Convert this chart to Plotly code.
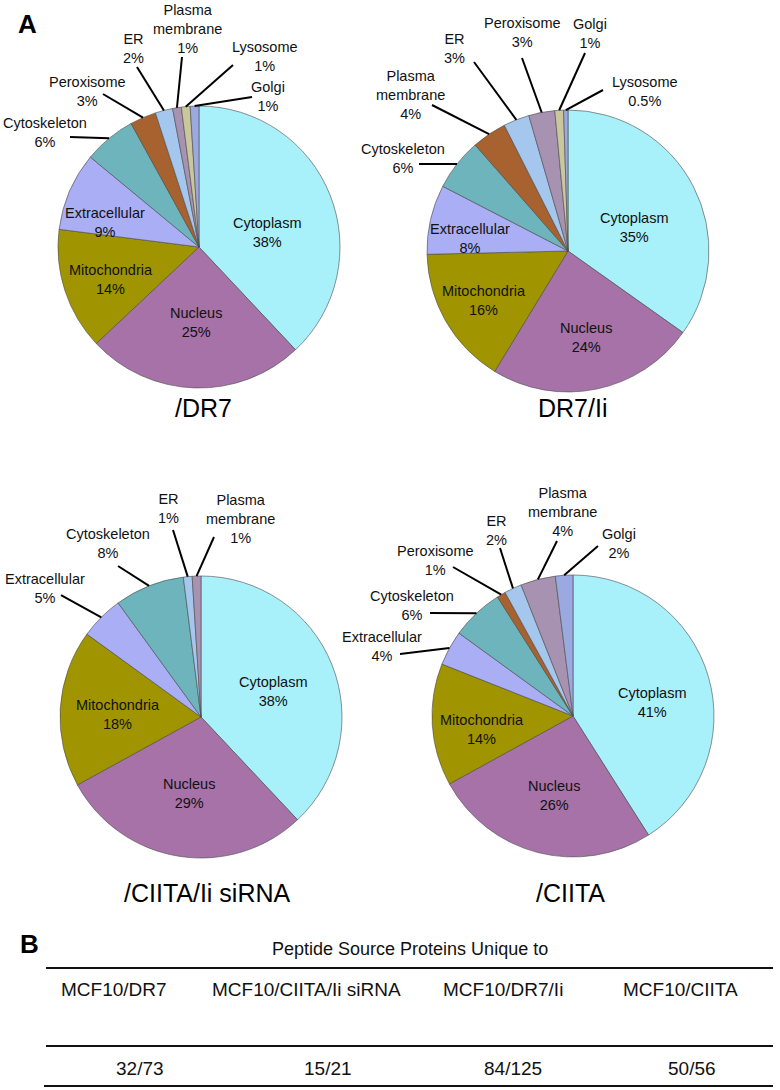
import math
import plotly.graph_objects as go

W, H = 780, 1090
FONT = "Liberation Sans, Arial, sans-serif"

# ---------------- data ----------------
dr7_labels = ["Cytoplasm", "Nucleus", "Mitochondria", "Extracellular", "Cytoskeleton",
              "Peroxisome", "ER", "Plasma membrane", "Lysosome", "Golgi"]
dr7_values = [38, 25, 14, 9, 6, 3, 2, 1, 1, 1]

dr7ii_labels = ["Cytoplasm", "Nucleus", "Mitochondria", "Extracellular", "Cytoskeleton",
                "Plasma membrane", "ER", "Peroxisome", "Golgi", "Lysosome"]
dr7ii_values = [35, 24, 16, 8, 6, 4, 3, 3, 1, 0.5]

sirna_labels = ["Cytoplasm", "Nucleus", "Mitochondria", "Extracellular", "Cytoskeleton",
                "ER", "Plasma membrane"]
sirna_values = [38, 29, 18, 5, 8, 1, 1]

ciita_labels = ["Cytoplasm", "Nucleus", "Mitochondria", "Extracellular", "Cytoskeleton",
                "Peroxisome", "ER", "Plasma membrane", "Golgi"]
ciita_values = [41, 26, 14, 4, 6, 1, 2, 4, 2]

pie_titles = ["/DR7", "DR7/Ii", "/CIITA/Ii siRNA", "/CIITA"]

table_title = "Peptide Source Proteins Unique to"
table_headers = ["MCF10/DR7", "MCF10/CIITA/Ii siRNA", "MCF10/DR7/Ii", "MCF10/CIITA"]
table_values = ["32/73", "15/21", "84/125", "50/56"]

# ---------------- styles ----------------
C_CYTO = "#A8F0FA"
C_NUC = "#A672A8"
C_MITO = "#A09500"
C_EXTRA = "#A9AEF5"
C_SKEL = "#6DB4BD"
C_BROWN = "#A8622F"
C_LBLUE = "#A5C7EE"
C_MAUVE = "#A892B2"
C_KHAKI = "#C9C79B"
C_PERI = "#9AA9E0"

dr7_colors = [C_CYTO, C_NUC, C_MITO, C_EXTRA, C_SKEL, C_BROWN, C_LBLUE, C_MAUVE, C_KHAKI, C_PERI]
dr7ii_colors = [C_CYTO, C_NUC, C_MITO, C_EXTRA, C_SKEL, C_BROWN, C_LBLUE, C_MAUVE, C_KHAKI, C_PERI]
sirna_colors = [C_CYTO, C_NUC, C_MITO, C_EXTRA, C_SKEL, C_LBLUE, C_MAUVE]
ciita_colors = [C_CYTO, C_NUC, C_MITO, C_EXTRA, C_SKEL, C_BROWN, C_LBLUE, C_MAUVE, C_PERI]

R = 141
pie_centers = [(199, 247), (568, 251), (201, 717), (573, 716)]
title_pos = [(203, 408), (572, 408), (207, 893), (570, 893)]

# label placements: category -> (text_x, text_y, leader_start_x, leader_start_y) ; None => inside label
label_pos = [
    {"Cytoplasm": (267, 232, None, None), "Nucleus": (196, 323, None, None),
     "Mitochondria": (111, 279, None, None), "Extracellular": (105, 222, None, None),
     "Cytoskeleton": (45, 132, 70, 137), "Peroxisome": (87, 91, 103, 94),
     "ER": (133, 48, 137, 67), "Plasma membrane": (187, 29, 182, 57),
     "Lysosome": (265, 56, 233, 65), "Golgi": (268, 97, 252, 97)},
    {"Cytoplasm": (634, 227, None, None), "Nucleus": (586, 338, None, None),
     "Mitochondria": (484, 300, None, None), "Extracellular": (470, 238, None, None),
     "Cytoskeleton": (403, 158, 419, 164), "Plasma membrane": (410, 95, 432, 105),
     "ER": (454, 48, 474, 62), "Peroxisome": (522, 32, 522, 58),
     "Golgi": (590, 34, 585, 53), "Lysosome": (645, 91, 603, 90)},
    {"Cytoplasm": (273, 691, None, None), "Nucleus": (189, 793, None, None),
     "Mitochondria": (118, 714, None, None),
     "Extracellular": (45, 588, 61, 595), "Cytoskeleton": (108, 543, 118, 566),
     "ER": (168, 508, 173, 530), "Plasma membrane": (240, 519, 214, 537)},
    {"Cytoplasm": (652, 702, None, None), "Nucleus": (554, 795, None, None),
     "Mitochondria": (482, 729, None, None),
     "Extracellular": (382, 646, 400, 654), "Cytoskeleton": (412, 605, 430, 613),
     "Peroxisome": (435, 560, 453, 567), "ER": (497, 530, 500, 548),
     "Plasma membrane": (562, 512, 557, 541), "Golgi": (619, 543, 598, 546)},
]

header_x = [114, 306, 503, 680]
value_x = [140, 328, 513, 692]


def px(x):
    return x / W


def py(y):
    return 1 - y / H


fig = go.Figure()
annotations = []
shapes = []

pies = [
    (dr7_labels, dr7_values, dr7_colors),
    (dr7ii_labels, dr7ii_values, dr7ii_colors),
    (sirna_labels, sirna_values, sirna_colors),
    (ciita_labels, ciita_values, ciita_colors),
]

for i, (labels, values, cols) in enumerate(pies):
    cx, cy = pie_centers[i]
    fig.add_trace(go.Pie(
        labels=labels, values=values, sort=False, direction="clockwise", rotation=0,
        marker=dict(colors=cols, line=dict(color="#4a4a4a", width=0.6)),
        textinfo="none", hoverinfo="label+percent", showlegend=False,
        domain=dict(x=[px(cx - R), px(cx + R)], y=[py(cy + R), py(cy - R)]),
    ))
    total = sum(values)
    cum = 0
    for lab, v in zip(labels, values):
        mid = (cum + v / 2) / total * 2 * math.pi
        cum += v
        tx, ty, lx, ly = label_pos[i][lab]
        name = lab.replace(" ", "<br>")
        annotations.append(dict(
            x=px(tx), y=py(ty), xref="paper", yref="paper",
            text=f"{name}<br>{v:g}%", showarrow=False,
            xanchor="center", yanchor="middle", align="center",
            font=dict(family=FONT, size=14.5, color="#111111"),
        ))
        if lx is not None:
            ex = cx + R * math.sin(mid)
            ey = cy - R * math.cos(mid)
            shapes.append(dict(
                type="line", xref="paper", yref="paper",
                x0=px(lx), y0=py(ly), x1=px(ex), y1=py(ey),
                line=dict(color="#000000", width=2),
            ))
    annotations.append(dict(
        x=px(title_pos[i][0]), y=py(title_pos[i][1]), xref="paper", yref="paper",
        text=pie_titles[i], showarrow=False, xanchor="center", yanchor="middle",
        font=dict(family=FONT, size=25, color="#000000"),
    ))

# panel letters
annotations.append(dict(x=px(28), y=py(24), xref="paper", yref="paper", text="<b>A</b>",
                        showarrow=False, xanchor="center", yanchor="middle",
                        font=dict(family=FONT, size=26, color="#000000")))
annotations.append(dict(x=px(29), y=py(944), xref="paper", yref="paper", text="<b>B</b>",
                        showarrow=False, xanchor="center", yanchor="middle",
                        font=dict(family=FONT, size=26, color="#000000")))

# table
annotations.append(dict(x=px(410), y=py(949), xref="paper", yref="paper", text=table_title,
                        showarrow=False, xanchor="center", yanchor="middle",
                        font=dict(family=FONT, size=18, color="#111111")))
for hx, htxt in zip(header_x, table_headers):
    annotations.append(dict(x=px(hx), y=py(989), xref="paper", yref="paper", text=htxt,
                            showarrow=False, xanchor="center", yanchor="middle",
                            font=dict(family=FONT, size=19, color="#111111")))
for vx, vtxt in zip(value_x, table_values):
    annotations.append(dict(x=px(vx), y=py(1068), xref="paper", yref="paper", text=vtxt,
                            showarrow=False, xanchor="center", yanchor="middle",
                            font=dict(family=FONT, size=19, color="#111111")))
for (x0, yl) in [(46, 968), (46, 1046), (44, 1086)]:
    shapes.append(dict(type="line", xref="paper", yref="paper",
                       x0=px(x0), x1=px(773), y0=py(yl), y1=py(yl),
                       line=dict(color="#111111", width=2)))

fig.update_layout(
    width=W, height=H, margin=dict(l=0, r=0, t=0, b=0),
    paper_bgcolor="white", plot_bgcolor="white",
    annotations=annotations, shapes=shapes,
)

fig.write_html(
    "out.html",
    config={"displayModeBar": False},
    post_script="document.body.style.margin='0';document.body.style.padding='0';"
                "document.documentElement.style.overflow='hidden';",
)
